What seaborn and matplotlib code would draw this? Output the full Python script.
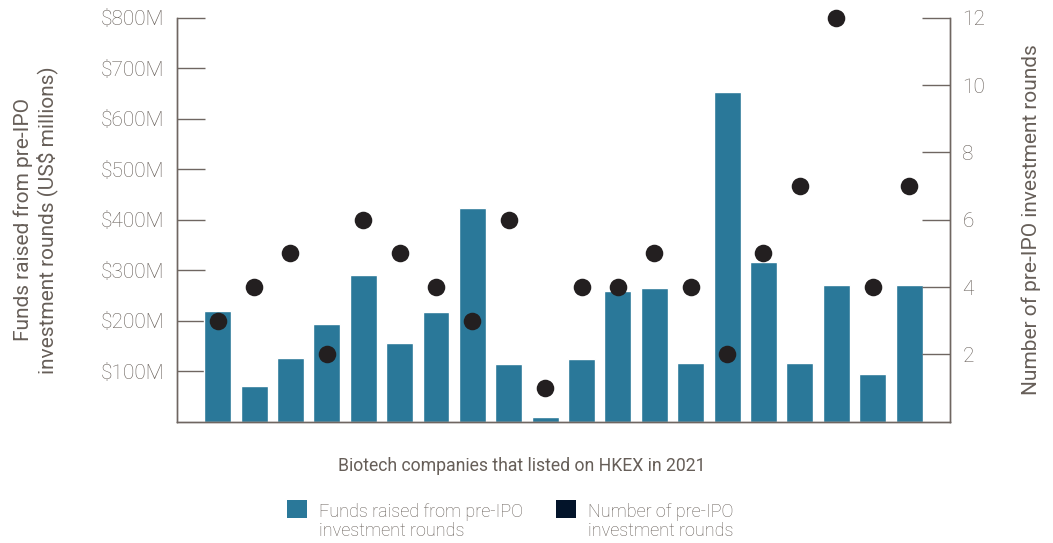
import numpy as np
import pandas as pd
import matplotlib
matplotlib.use('Agg')
import matplotlib.pyplot as plt
from matplotlib.patches import Patch, Rectangle
from matplotlib.legend_handler import HandlerPatch
import seaborn as sns

# funds raised (US$ millions) and number of pre-IPO rounds per company
companies = [f'Company {i}' for i in range(1, 21)]
funds = [219, 70, 126, 193, 291, 156, 217, 424, 114, 10,
         124, 259, 265, 116, 653, 317, 116, 271, 94, 271]
rounds = [3, 4, 5, 2, 6, 5, 4, 3, 6, 1, 4, 4, 5, 4, 2, 5, 7, 12, 4, 7]
left_ticks = [100, 200, 300, 400, 500, 600, 700, 800]
right_ticks = [2, 4, 6, 8, 10, 12]

BAR = '#2a7899'
DOT = '#231f20'
NAVY = '#03142a'
TXT = '#665e58'
LINE = '#6f6661'


class TopSquare(HandlerPatch):
    # put the legend square beside the first text line
    def create_artists(self, legend, orig_handle, xdescent, ydescent,
                       width, height, fontsize, trans):
        p = Rectangle((-xdescent, -ydescent + 0.75 * fontsize), width, height,
                      facecolor=orig_handle.get_facecolor(), edgecolor='none',
                      transform=trans)
        return [p]


sns.set_theme(style='white')
plt.rcParams['font.family'] = ['Roboto', 'DejaVu Sans']
plt.rcParams['font.weight'] = 'light'

df = pd.DataFrame({'company': companies, 'funds': funds, 'rounds': rounds})
df['pos'] = np.arange(len(df))

fig = plt.figure(figsize=(10.53, 5.43), dpi=100)
ax = fig.add_axes([0.168, 0.2234, 0.734, 0.7440])

sns.barplot(data=df, x='company', y='funds', color=BAR, saturation=1,
            width=0.74, ax=ax)
ax.set_xlim(-1.12, len(df) - 1 + 1.12)
ax.set_ylim(0, 800)
ax.set_yticks(left_ticks)
ax.set_yticklabels([f'${v}M' for v in left_ticks])
ax.set_xticks([])
ax.set_xlabel('Biotech companies that listed on HKEX in 2021', fontsize=12.7,
              color=TXT)
ax.xaxis.set_label_coords(0.4466, -0.088)
ax.set_ylabel('Funds raised from pre-IPO\ninvestment rounds (US$ millions)',
              fontsize=15, color=TXT, labelpad=31, linespacing=1.15)
ax.tick_params(axis='y', direction='in', length=20, width=1, color=LINE,
               labelcolor=TXT, labelsize=15, pad=9, left=True)

ax2 = ax.twinx()
sns.scatterplot(data=df, x='pos', y='rounds', color=DOT, s=160, linewidth=0,
                ax=ax2, zorder=5, clip_on=False)
ax2.set_ylim(0, 12)
ax2.set_yticks(right_ticks)
ax2.set_xlim(-1.12, len(df) - 1 + 1.12)
ax2.set_xlabel('')
ax2.set_ylabel('Number of pre-IPO investment rounds', fontsize=15, color=TXT,
               labelpad=26)
ax2.tick_params(axis='y', direction='in', length=20, width=1, color=LINE,
                labelcolor=TXT, labelsize=15, pad=9, right=True)

for a in (ax, ax2):
    for side in ('left', 'right', 'bottom'):
        a.spines[side].set_color(LINE)
        a.spines[side].set_linewidth(1)
    a.spines['top'].set_visible(False)

handles = [Patch(facecolor=BAR, edgecolor='none'),
           Patch(facecolor=NAVY, edgecolor='none')]
labels = ['Funds raised from pre-IPO\ninvestment rounds',
          'Number of pre-IPO\ninvestment rounds']
leg = fig.legend(handles, labels, loc='upper left', ncol=2, frameon=False,
                 bbox_to_anchor=(0.257, 0.104), fontsize=13, handlelength=1.1,
                 handleheight=1.15, handletextpad=0.7, columnspacing=1.8,
                 handler_map={Patch: TopSquare()})
for t in leg.get_texts():
    t.set_color(TXT)
    t.set_linespacing(1.1)

fig.savefig('out.png', dpi=100)
